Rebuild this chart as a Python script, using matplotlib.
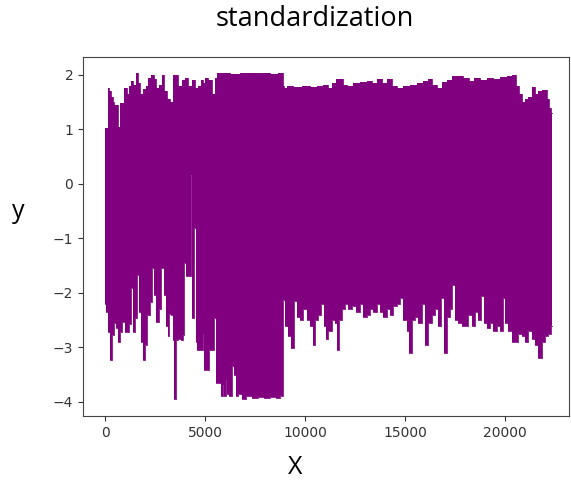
import numpy as np
import matplotlib
matplotlib.use("Agg")
import matplotlib.pyplot as plt

# upper envelope of the signal
up_x = [0, 120, 170, 250, 330, 420, 520, 640, 700, 760, 900, 1030, 1170, 1250, 1370,
        1470, 1580, 1700, 1830, 1970, 2080, 2250, 2370, 2500, 2630, 2750, 2920, 3000,
        3170, 3330, 3420, 3580, 3750, 3920, 4080, 4250, 4420, 4580, 4750, 4830, 4950,
        5080, 5250, 5420, 5550, 5670, 6000, 6500, 7000, 7500, 8000, 8500, 8850, 8920,
        9000, 9250, 9580, 10080, 10420, 10750, 11080, 11250, 11420, 11670, 11830, 12000,
        12250, 12580, 12920, 13250, 13420, 13750, 14000, 14250, 14500, 14750, 15080,
        15420, 15750, 16080, 16250, 16500, 16750, 17000, 17250, 17500, 17750, 18080,
        18330, 18580, 18920, 19250, 19580, 19920, 20250, 20500, 20620, 20750, 20920,
        21080, 21250, 21420, 21580, 21750, 22000, 22170, 22280, 22330]
up_y = [1.02, 1.02, 1.76, 1.70, 1.60, 1.51, 1.45, 1.45, 1.05, 1.48, 1.48, 1.76, 1.64, 1.79, 1.88,
        1.82, 2.03, 1.85, 1.64, 1.74, 1.80, 1.94, 2.00, 1.92, 1.76, 1.82, 2.00, 1.70,
        1.55, 1.50, 2.00, 2.00, 1.80, 1.90, 1.95, 1.80, 1.90, 1.75, 1.80, 1.90, 1.85,
        1.95, 1.90, 1.65, 1.95, 2.03, 2.03, 2.02, 2.03, 2.03, 2.03, 2.02, 2.03, 1.80,
        1.75, 1.80, 1.78, 1.80, 1.77, 1.80, 1.82, 1.75, 1.85, 1.92, 1.93, 1.82,
        1.80, 1.85, 1.87, 1.88, 1.85, 1.92, 1.85, 1.92, 1.80, 1.75, 1.80,
        1.82, 1.85, 1.88, 1.92, 1.82, 1.75, 1.87, 1.90, 1.98, 1.97, 1.95,
        1.88, 1.95, 1.90, 1.95, 1.92, 1.96, 1.97, 2.00, 1.80, 1.65, 1.51,
        1.55, 1.60, 1.78, 1.65, 1.70, 1.72, 1.55, 1.40, 1.30]

# lower envelope
lo_x = [0, 120, 200, 300, 420, 500, 580, 670, 800, 920, 1030, 1130, 1250, 1333, 1420,
        1530, 1633, 1720, 1830, 1950, 2030, 2170, 2300, 2417, 2500, 2620, 2750, 2883,
        2970, 3080, 3170, 3250, 3330, 3420, 3500, 3580, 3750, 3830, 3920, 4000, 4080,
        4170, 4250, 4300, 4380, 4500, 4560, 4670, 4830, 4920, 5000, 5170, 5250, 5420,
        5500, 5580, 5750, 5830, 5920, 6000, 6080, 6170, 6250, 6420, 6500, 6580, 6750,
        6920, 7200, 7500, 7800, 8100, 8400, 8700, 8850, 8920, 9080, 9250, 9380, 9500,
        9670, 9830, 10000, 10170, 10330, 10450, 10580, 10750, 10880, 11000, 11080,
        11250, 11420, 11550, 11670, 11750, 11920, 12080, 12250, 12420, 12670, 12830,
        13000, 13170, 13330, 13500, 13670, 13830, 14000, 14170, 14330, 14500, 14670,
        14830, 15000, 15170, 15280, 15420, 15580, 15750, 15920, 16080, 16250, 16420,
        16580, 16750, 16880, 17000, 17170, 17330, 17420, 17580, 17750, 17920, 18080,
        18250, 18420, 18580, 18750, 18880, 19000, 19170, 19330, 19500, 19670, 19830,
        19970, 20080, 20250, 20420, 20580, 20750, 20920, 21080, 21250, 21420, 21580,
        21750, 21920, 22080, 22250, 22330]
lo_y = [-2.20, -2.35, -2.71, -3.24, -2.78, -2.55, -2.65, -2.90, -2.71, -2.53, -2.71, -2.71, -2.58, -1.92, -2.71,
        -2.47, -1.67, -2.35, -2.90, -3.24, -2.96, -2.41, -2.16, -1.55, -2.04, -2.53, -2.29, -1.55,
        -2.04, -2.60, -2.80, -2.38, -2.40, -2.87, -3.94, -2.87, -2.85, -2.87, -2.78, -1.46, -1.70,
        -1.70, -1.70, 0.165, -2.47, -0.81, -2.90, -3.05, -3.05, -2.75, -3.42, -3.42, -3.05, -3.05,
        -2.47, -3.66, -3.66, -3.90, -3.70, -3.90, -3.60, -3.85, -3.90, -3.35, -3.50, -3.90, -3.85,
        -3.95, -3.90, -3.93, -3.92, -3.93, -3.92, -3.93, -3.90, -2.13, -2.60, -2.80, -3.02, -2.15,
        -2.45, -2.50, -2.30, -2.50, -2.60, -2.95, -2.50, -2.40, -2.20, -2.60, -2.85,
        -2.70, -2.50, -2.55, -3.05, -2.50, -2.30, -2.20, -2.30, -2.25, -2.35, -2.20,
        -2.45, -2.40, -2.30, -2.35, -2.20, -2.35, -2.45, -2.30, -2.40, -2.25, -2.20,
        -2.10, -2.50, -2.70, -3.10, -2.50, -2.45, -2.55, -2.20, -2.95, -2.55, -2.40,
        -2.30, -2.60, -2.10, -3.10, -2.45, -2.30, -1.86, -2.50, -2.55, -2.60, -2.60,
        -2.40, -2.60, -2.35, -2.50, -2.05, -2.55, -2.65, -2.55, -2.70, -2.60, -2.70,
        -2.10, -2.55, -2.70, -2.90, -2.90, -2.75, -2.80, -2.90, -2.70, -2.85, -2.95,
        -3.20, -2.90, -2.80, -2.75, -2.60]

color = "purple"
mid = 0.9  # level that sits between the two envelopes everywhere

fig = plt.figure(figsize=(5.71, 4.82), dpi=100)
ax = fig.add_axes([0.1454, 0.137, 0.851, 0.745])

# the signal is so dense it reads as a solid band with spiky edges
ax.fill_between(up_x, mid, up_y, step="mid", color=color, lw=0)
ax.fill_between(lo_x, lo_y, mid, step="mid", color=color, lw=0)
ax.plot(up_x, up_y, drawstyle="steps-mid", color=color, lw=0.6)
ax.plot(lo_x, lo_y, drawstyle="steps-mid", color=color, lw=0.6)

ax.set_xlim(-1100, 23200)
ax.set_ylim(-4.26, 2.33)
ax.set_xticks([0, 5000, 10000, 15000, 20000])
ax.set_yticks([-4, -3, -2, -1, 0, 1, 2])
ax.tick_params(labelsize=10, colors="#333333")
for s in ax.spines.values():
    s.set_color("#444444")

fig.text(315 / 571, 1 - 19 / 482, "standardization", family="Open Sans",
         fontsize=19.5, ha="center", va="center")
fig.text(18 / 571, 1 - 212 / 482, "y", family="Open Sans",
         fontsize=18, ha="center", va="center")
fig.text(295 / 571, 1 - 468 / 482, "X", family="Open Sans",
         fontsize=18, ha="center", va="center")

fig.savefig("out.png", dpi=100)
